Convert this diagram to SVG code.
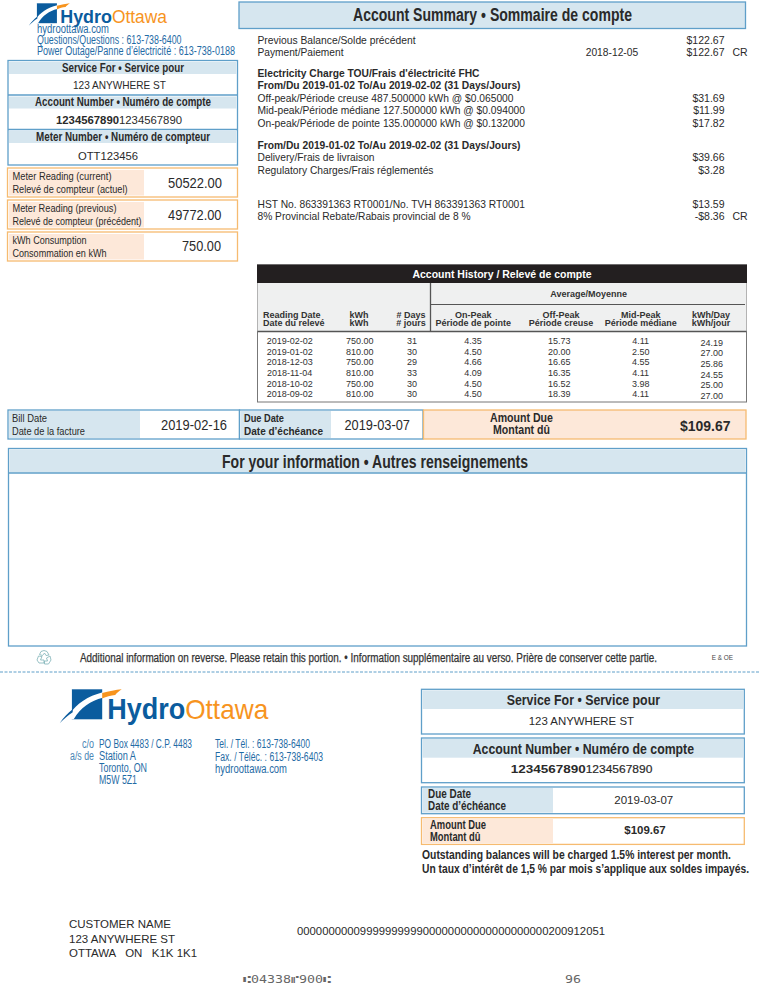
<svg xmlns="http://www.w3.org/2000/svg" xmlns:xlink="http://www.w3.org/1999/xlink" width="760" height="984" viewBox="0 0 760 984">
<style>
text{font-family:"Liberation Sans",Arial,sans-serif;fill:#2a2a2a}
.n{font-family:"Liberation Sans Narrow","Liberation Sans",Arial,sans-serif}
.b{font-weight:700}
.m{text-anchor:middle}
.e{text-anchor:end}
.bb{fill:#fff;stroke:#5f9fc9;stroke-width:1.3}
.ob{fill:#fff;stroke:#f6bb70;stroke-width:1.3}
.band{fill:#d6e6ef}
.peach{fill:#fde8d9}
.s{font-size:10.5px}
.t{font-size:9px;fill:#333}
.h{font-size:9px;font-weight:700;fill:#333}
.nb{font-size:12px;fill:#1f6ba5}
.d{fill:#0b5c9e}
.o{fill:#f7941e}
</style>
<defs>
<g id="logo">
<rect class="d" width="30.5" height="30"/>
<path fill="#fff" d="M-2,25 C5,14 16,7 31,3 L31,8.5 C19,11.5 9,18 2,30 L-2,30Z"/>
<path fill="#fff" d="M-1,0 H0 V30 H-1Z"/>
<path class="d" d="M-12,34 C-8,28 -4,24 1,20 L1,23 C-4,26 -8,30 -12,34Z"/>
<path class="o" d="M30.5,3.8 C37,2 44,0.6 50,0 C47,2 45,4 43.5,5.6 C39,6 34.5,7.5 30.5,9.2Z"/>
<text class="b" x="35.5" y="29.700" font-size="29" textLength="78" lengthAdjust="spacingAndGlyphs" style="fill:#0b5c9e">Hydro</text>
<text x="113.5" y="29.700" font-size="28" textLength="83" lengthAdjust="spacingAndGlyphs" style="fill:#f7941e">Ottawa</text>
</g>
</defs>
<rect width="760" height="984" fill="#fff"/>

<g id="logo-top">
<use xlink:href="#logo" href="#logo" transform="translate(36.700 3.300) scale(.663)"/>
<text class="n nb" x="37" y="33.300" textLength="72" lengthAdjust="spacingAndGlyphs">hydroottawa.com</text>
<text class="n nb" x="37" y="44.300" textLength="144.500" lengthAdjust="spacingAndGlyphs">Questions/Questions : 613-738-6400</text>
<text class="n nb" x="37" y="54.600" textLength="198" lengthAdjust="spacingAndGlyphs">Power Outage/Panne d’électricité : 613-738-0188</text>
</g>

<g id="service-box">
<rect class="bb" x="8" y="60.500" width="229.500" height="104.500"/>
<rect class="band" x="9" y="62" width="227.500" height="12"/>
<rect class="band" x="9" y="96.500" width="227.500" height="12"/>
<rect class="band" x="9" y="131" width="227.500" height="12"/>
<path d="M8 95H237.500M8 129.500H237.500" stroke="#5f9fc9" stroke-width="1.300" fill="none"/>
<text class="n b" x="62" y="72.300" font-size="13" textLength="122" lengthAdjust="spacingAndGlyphs">Service For • Service pour</text>
<text x="73" y="89" font-size="10.500" textLength="93" lengthAdjust="spacingAndGlyphs">123 ANYWHERE ST</text>
<text class="n b" x="35" y="106.300" font-size="13" textLength="176" lengthAdjust="spacingAndGlyphs">Account Number • Numéro de compte</text>
<text class="b" x="56" y="123.500" font-size="10.500" textLength="63" lengthAdjust="spacingAndGlyphs">1234567890</text>
<text x="119" y="123.500" font-size="10.500" textLength="63" lengthAdjust="spacingAndGlyphs">1234567890</text>
<text class="n b" x="36" y="140.700" font-size="13" textLength="174" lengthAdjust="spacingAndGlyphs">Meter Number • Numéro de compteur</text>
<text x="78" y="160" font-size="11" textLength="60" lengthAdjust="spacingAndGlyphs">OTT123456</text>
</g>

<g id="meter-current">
<rect class="ob" x="7.500" y="168" width="230" height="29"/>
<rect class="peach" x="9" y="170" width="135" height="25.500"/>
<text class="n" x="12.500" y="180" font-size="11.500" textLength="99" lengthAdjust="spacingAndGlyphs">Meter Reading (current)</text>
<text class="n" x="12.500" y="192.500" font-size="11.500" textLength="115" lengthAdjust="spacingAndGlyphs">Relevé de compteur (actuel)</text>
<text x="168" y="188" font-size="14" textLength="54" lengthAdjust="spacingAndGlyphs">50522.00</text>
</g>
<g id="meter-previous">
<rect class="ob" x="7.500" y="200" width="230" height="29"/>
<rect class="peach" x="9" y="202" width="135" height="25.500"/>
<text class="n" x="12.500" y="212" font-size="11.500" textLength="104" lengthAdjust="spacingAndGlyphs">Meter Reading (previous)</text>
<text class="n" x="12.500" y="224.500" font-size="11.500" textLength="129" lengthAdjust="spacingAndGlyphs">Relevé de compteur (précédent)</text>
<text x="168" y="220" font-size="14" textLength="53.500" lengthAdjust="spacingAndGlyphs">49772.00</text>
</g>
<g id="consumption">
<rect class="ob" x="7.500" y="232" width="230" height="29"/>
<rect class="peach" x="9" y="234" width="135" height="25.500"/>
<text class="n" x="12.500" y="244" font-size="11.500" textLength="74" lengthAdjust="spacingAndGlyphs">kWh Consumption</text>
<text class="n" x="12.500" y="256.500" font-size="11.500" textLength="94" lengthAdjust="spacingAndGlyphs">Consommation en kWh</text>
<text x="182" y="251" font-size="14" textLength="39" lengthAdjust="spacingAndGlyphs">750.00</text>
</g>

<g id="account-summary">
<rect x="239" y="2" width="506.500" height="26.500" fill="#d6e6ef" stroke="#5f9fc9" stroke-width="1.300"/>
<text class="n b" x="353" y="21" font-size="18" textLength="279" lengthAdjust="spacingAndGlyphs">Account Summary • Sommaire de compte</text>
<text class="s" x="257.500" y="44" textLength="158" lengthAdjust="spacingAndGlyphs">Previous Balance/Solde précédent</text>
<text class="s" x="257.500" y="56" textLength="86" lengthAdjust="spacingAndGlyphs">Payment/Paiement</text>
<text class="s" x="585.700" y="56" textLength="52.500" lengthAdjust="spacingAndGlyphs">2018-12-05</text>
<text class="s b" x="257.500" y="76.500" textLength="222" lengthAdjust="spacingAndGlyphs">Electricity Charge TOU/Frais d'électricité FHC</text>
<text class="s b" x="257.500" y="89" textLength="263" lengthAdjust="spacingAndGlyphs">From/Du 2019-01-02 To/Au 2019-02-02 (31 Days/Jours)</text>
<text class="s" x="257.500" y="101.500" textLength="256" lengthAdjust="spacingAndGlyphs">Off-peak/Période creuse 487.500000 kWh @ $0.065000</text>
<text class="s" x="257.500" y="114" textLength="267.500" lengthAdjust="spacingAndGlyphs">Mid-peak/Période médiane 127.500000 kWh @ $0.094000</text>
<text class="s" x="257.500" y="126.500" textLength="267.500" lengthAdjust="spacingAndGlyphs">On-peak/Période de pointe 135.000000 kWh @ $0.132000</text>
<text class="s b" x="257.500" y="148.500" textLength="263" lengthAdjust="spacingAndGlyphs">From/Du 2019-01-02 To/Au 2019-02-02 (31 Days/Jours)</text>
<text class="s" x="257.500" y="161" textLength="117" lengthAdjust="spacingAndGlyphs">Delivery/Frais de livraison</text>
<text class="s" x="257.500" y="173.500" textLength="176" lengthAdjust="spacingAndGlyphs">Regulatory Charges/Frais réglementés</text>
<text class="s" x="257.500" y="208" textLength="267.500" lengthAdjust="spacingAndGlyphs">HST No. 863391363 RT0001/No. TVH 863391363 RT0001</text>
<text class="s" x="257.500" y="220" textLength="213" lengthAdjust="spacingAndGlyphs">8% Provincial Rebate/Rabais provincial de 8 %</text>
<text class="s e" x="724.500" y="44">$122.67</text>
<text class="s e" x="724.500" y="56">$122.67</text>
<text class="s" x="732.500" y="56">CR</text>
<text class="s e" x="724.500" y="101.500">$31.69</text>
<text class="s e" x="724.500" y="114">$11.99</text>
<text class="s e" x="724.500" y="126.500">$17.82</text>
<text class="s e" x="724.500" y="161">$39.66</text>
<text class="s e" x="724.500" y="173.500">$3.28</text>
<text class="s e" x="724.500" y="208">$13.59</text>
<text class="s e" x="724.500" y="220">-$8.36</text>
<text class="s" x="732.500" y="220">CR</text>
</g>

<g id="account-history">
<rect x="257.500" y="265" width="489" height="137" fill="#fff" stroke="#777" stroke-width="1"/>
<rect x="257.500" y="283" width="489" height="48.500" fill="#eff0f0"/>
<rect x="257" y="264.500" width="490" height="18.500" fill="#231f20"/>
<path d="M257.500 331.500H746.500M430.500 283V331.500" stroke="#555" stroke-width="1.300" fill="none"/>
<path d="M430.500 304.500H745" stroke="#555" stroke-width="1" fill="none"/>
<text class="m b" x="502" y="277.500" font-size="10.500" style="fill:#fff">Account History / Relevé de compte</text>
<text class="h m" x="588.700" y="297">Average/Moyenne</text>
<text class="h" x="263" y="317.500">Reading Date</text><text class="h" x="263" y="325.500">Date du relevé</text>
<text class="h m" x="359" y="317.500">kWh</text><text class="h m" x="359" y="325.500">kWh</text>
<text class="h m" x="411" y="317.500"># Days</text><text class="h m" x="411" y="325.500"># jours</text>
<text class="h m" x="473.300" y="317.500">On-Peak</text><text class="h m" x="473.300" y="325.500">Période de pointe</text>
<text class="h m" x="561" y="317.500">Off-Peak</text><text class="h m" x="561" y="325.500">Période creuse</text>
<text class="h m" x="640.700" y="317.500">Mid-Peak</text><text class="h m" x="640.700" y="325.500">Période médiane</text>
<text class="h m" x="711" y="317.500">kWh/Day</text><text class="h m" x="711" y="325.500">kWh/jour</text>
<g text-anchor="middle">
<text class="t" x="289.700" y="344">2019-02-02</text><text class="t" x="359.700" y="344">750.00</text><text class="t" x="412" y="344">31</text><text class="t" x="473" y="344">4.35</text><text class="t" x="559.300" y="344">15.73</text><text class="t" x="640.700" y="344">4.11</text><text class="t" x="711.700" y="345.500">24.19</text>
<text class="t" x="289.700" y="354.700">2019-01-02</text><text class="t" x="359.700" y="354.700">810.00</text><text class="t" x="412" y="354.700">30</text><text class="t" x="473" y="354.700">4.50</text><text class="t" x="559.300" y="354.700">20.00</text><text class="t" x="640.700" y="354.700">2.50</text><text class="t" x="711.700" y="356">27.00</text>
<text class="t" x="289.700" y="365.200">2018-12-03</text><text class="t" x="359.700" y="365.200">750.00</text><text class="t" x="412" y="365.200">29</text><text class="t" x="473" y="365.200">4.66</text><text class="t" x="559.300" y="365.200">16.65</text><text class="t" x="640.700" y="365.200">4.55</text><text class="t" x="711.700" y="366.700">25.86</text>
<text class="t" x="289.700" y="376">2018-11-04</text><text class="t" x="359.700" y="376">810.00</text><text class="t" x="412" y="376">33</text><text class="t" x="473" y="376">4.09</text><text class="t" x="559.300" y="376">16.35</text><text class="t" x="640.700" y="376">4.11</text><text class="t" x="711.700" y="377.500">24.55</text>
<text class="t" x="289.700" y="386.700">2018-10-02</text><text class="t" x="359.700" y="386.700">750.00</text><text class="t" x="412" y="386.700">30</text><text class="t" x="473" y="386.700">4.50</text><text class="t" x="559.300" y="386.700">16.52</text><text class="t" x="640.700" y="386.700">3.98</text><text class="t" x="711.700" y="388">25.00</text>
<text class="t" x="289.700" y="397.300">2018-09-02</text><text class="t" x="359.700" y="397.300">810.00</text><text class="t" x="412" y="397.300">30</text><text class="t" x="473" y="397.300">4.50</text><text class="t" x="559.300" y="397.300">18.39</text><text class="t" x="640.700" y="397.300">4.11</text><text class="t" x="711.700" y="398.700">27.00</text>
</g>
</g>

<g id="bill-date">
<rect class="bb" x="8" y="410" width="231.500" height="29"/>
<rect class="band" x="9" y="411" width="131" height="27"/>
<text class="n" x="12" y="422" font-size="11.500" textLength="35" lengthAdjust="spacingAndGlyphs">Bill Date</text>
<text class="n" x="12" y="434.500" font-size="11.500" textLength="73" lengthAdjust="spacingAndGlyphs">Date de la facture</text>
<text x="161" y="430" font-size="14" textLength="66" lengthAdjust="spacingAndGlyphs">2019-02-16</text>
</g>
<g id="due-date">
<rect class="bb" x="239.500" y="410" width="183.500" height="29"/>
<rect class="band" x="240.500" y="411" width="90.500" height="27"/>
<text class="n b" x="244" y="422" font-size="11.500" textLength="40" lengthAdjust="spacingAndGlyphs">Due Date</text>
<text class="n b" x="244" y="434.500" font-size="11.500" textLength="79" lengthAdjust="spacingAndGlyphs">Date d’échéance</text>
<text x="344.500" y="430" font-size="14" textLength="65.500" lengthAdjust="spacingAndGlyphs">2019-03-07</text>
</g>
<g id="amount-due">
<rect x="423.500" y="410" width="322.500" height="29" fill="#fde8d9" stroke="#f6bb70" stroke-width="1.300"/>
<text class="n b" x="490" y="421.500" font-size="13" textLength="63" lengthAdjust="spacingAndGlyphs">Amount Due</text>
<text class="n b" x="493" y="433.500" font-size="13" textLength="57" lengthAdjust="spacingAndGlyphs">Montant dû</text>
<text class="b" x="680" y="431" font-size="15" textLength="50.500" lengthAdjust="spacingAndGlyphs">$109.67</text>
</g>

<g id="information">
<rect class="bb" x="8.500" y="448.500" width="738" height="197.500"/>
<rect class="band" x="9.500" y="449.500" width="736" height="23"/>
<path d="M8.500 473H746.500" stroke="#5f9fc9" stroke-width="1.300"/>
<text class="n b" x="222" y="467.500" font-size="17.500" textLength="306" lengthAdjust="spacingAndGlyphs">For your information • Autres renseignements</text>
</g>

<g id="footer-note">
<g fill="none" stroke="#7fb2b8" stroke-width=".8">
<path d="M41 651.500L44 650.500L47 651.500L49 655L46 655.500L44.500 653L42.500 655.500L39.500 654.500Z"/>
<path d="M37 660L38.500 656L42 656.500L40.500 660H44V663H39Z"/>
<path d="M50 656L51 660L48.500 664H44.500V661L47.500 661L46.500 658Z"/>
</g>
<text class="n" x="80" y="662" font-size="12" textLength="577" lengthAdjust="spacingAndGlyphs" style="stroke:#333;stroke-width:.25;fill:#333">Additional information on reverse. Please retain this portion. • Information supplémentaire au verso. Prière de conserver cette partie.</text>
<text class="n" x="711.700" y="659.500" font-size="7.500" textLength="21.300" lengthAdjust="spacingAndGlyphs" style="fill:#444">E &amp; OE</text>
</g>
<path id="tear-line" d="M0 672H760" stroke="#5f9fc9" stroke-width="1" stroke-dasharray="3 1.500"/>

<g id="logo-bottom">
<use xlink:href="#logo" href="#logo" transform="translate(71.700 689.300)"/>
</g>

<g id="remit-address">
<text class="n nb" x="82" y="747.500" textLength="12" lengthAdjust="spacingAndGlyphs" style="fill:#4a86b5">c/o</text>
<text class="n nb" x="70" y="759.500" textLength="24" lengthAdjust="spacingAndGlyphs" style="fill:#4a86b5">a/s de</text>
<text class="n nb" x="99" y="747.500" textLength="93" lengthAdjust="spacingAndGlyphs">PO Box 4483 / C.P. 4483</text>
<text class="n nb" x="99" y="759.500" textLength="37" lengthAdjust="spacingAndGlyphs">Station A</text>
<text class="n nb" x="99" y="771.700" textLength="48" lengthAdjust="spacingAndGlyphs">Toronto, ON</text>
<text class="n nb" x="99" y="784" textLength="38" lengthAdjust="spacingAndGlyphs">M5W 5Z1</text>
<text class="n nb" x="215" y="748" textLength="95" lengthAdjust="spacingAndGlyphs">Tel. / Tél. : 613-738-6400</text>
<text class="n nb" x="215" y="760.500" textLength="108" lengthAdjust="spacingAndGlyphs">Fax. / Téléc. : 613-738-6403</text>
<text class="n nb" x="215" y="772.700" textLength="72" lengthAdjust="spacingAndGlyphs">hydroottawa.com</text>
</g>

<g id="stub-service">
<rect class="bb" x="421.500" y="689.300" width="322.800" height="44.700"/>
<rect class="band" x="422.500" y="690.300" width="320.800" height="18.700"/>
<text class="n b" x="506.700" y="705.300" font-size="15.500" textLength="153.300" lengthAdjust="spacingAndGlyphs">Service For • Service pour</text>
<text x="528.700" y="725" font-size="11.500" textLength="105.300" lengthAdjust="spacingAndGlyphs">123 ANYWHERE ST</text>
</g>
<g id="stub-account">
<rect class="bb" x="421.500" y="738" width="322.800" height="44.700"/>
<rect class="band" x="422.500" y="739" width="320.800" height="18.700"/>
<text class="n b" x="472.700" y="754.300" font-size="15.500" textLength="221.300" lengthAdjust="spacingAndGlyphs">Account Number • Numéro de compte</text>
<text class="b" x="510.700" y="773.300" font-size="11.500" textLength="75" lengthAdjust="spacingAndGlyphs">1234567890</text>
<text x="585.700" y="773.300" font-size="11.500" textLength="66.700" lengthAdjust="spacingAndGlyphs" style="stroke:#2a2a2a;stroke-width:.2">1234567890</text>
</g>
<g id="stub-due">
<rect class="bb" x="421.500" y="787" width="322.800" height="26.700"/>
<rect class="band" x="422.500" y="788" width="130.500" height="24.700"/>
<text class="n b" x="428" y="797.700" font-size="12" textLength="43" lengthAdjust="spacingAndGlyphs">Due Date</text>
<text class="n b" x="428" y="810" font-size="12" textLength="78" lengthAdjust="spacingAndGlyphs">Date d’échéance</text>
<text x="614.300" y="804" font-size="11" textLength="59" lengthAdjust="spacingAndGlyphs">2019-03-07</text>
</g>
<g id="stub-amount">
<rect class="ob" x="421.500" y="817.700" width="322.800" height="26.700"/>
<rect class="peach" x="422.500" y="818.700" width="130.500" height="24.700"/>
<text class="n b" x="430" y="829" font-size="12" textLength="56" lengthAdjust="spacingAndGlyphs">Amount Due</text>
<text class="n b" x="430" y="840.700" font-size="12" textLength="50.500" lengthAdjust="spacingAndGlyphs">Montant dû</text>
<text class="b" x="624.300" y="834" font-size="11" textLength="41.400" lengthAdjust="spacingAndGlyphs">$109.67</text>
</g>
<g id="interest-note">
<text class="n b" x="422" y="859.300" font-size="12.500" textLength="309" lengthAdjust="spacingAndGlyphs">Outstanding balances will be charged 1.5% interest per month.</text>
<text class="n b" x="422" y="873.300" font-size="12.500" textLength="327" lengthAdjust="spacingAndGlyphs">Un taux d’intérêt de 1,5 % par mois s’applique aux soldes impayés.</text>
</g>

<g id="customer">
<text x="69" y="928" font-size="11.500" textLength="102" lengthAdjust="spacingAndGlyphs">CUSTOMER NAME</text>
<text x="69" y="942.500" font-size="11.500" textLength="106" lengthAdjust="spacingAndGlyphs">123 ANYWHERE ST</text>
<text x="69" y="957" font-size="11.500" textLength="128" lengthAdjust="spacingAndGlyphs" xml:space="preserve">OTTAWA   ON   K1K 1K1</text>
<text x="297" y="935" font-size="11.500" textLength="308" lengthAdjust="spacingAndGlyphs">0000000000999999999900000000000000000000200912051</text>
</g>
<g id="micr">
<text x="243" y="983" font-size="10" textLength="88" lengthAdjust="spacingAndGlyphs" style="font-family:'DejaVu Sans Mono','DejaVu Sans',monospace;fill:#666">⑆04338⑈900⑆</text>
<text x="565" y="983" font-size="10" textLength="16" lengthAdjust="spacingAndGlyphs" style="font-family:'DejaVu Sans Mono','DejaVu Sans',monospace;fill:#666">96</text>
</g>
</svg>
